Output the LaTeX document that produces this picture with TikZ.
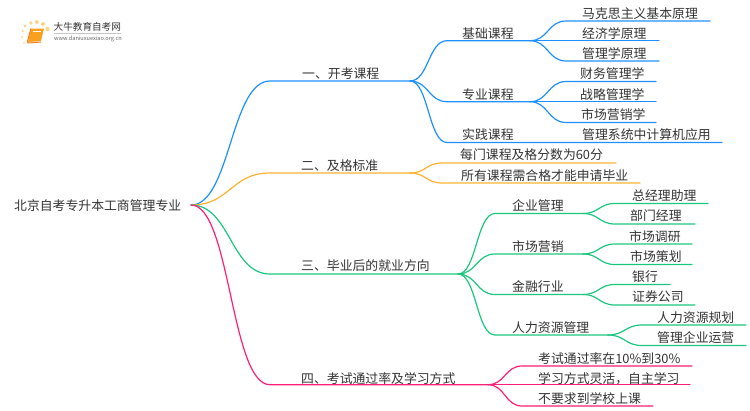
\documentclass[tikz,border=0pt]{standalone}
\usepackage{fontspec}
\setmainfont{Noto Sans CJK SC}
\usetikzlibrary{calc}
\definecolor{ink}{HTML}{333333}
\definecolor{cblue}{HTML}{1E90FF}
\definecolor{corange}{HTML}{FDB32F}
\definecolor{cgreen}{HTML}{1BC77E}
\definecolor{cpink}{HTML}{FF1E78}
\definecolor{bookfill}{HTML}{F9A01E}
\definecolor{bookedge}{HTML}{EE7F1A}
\definecolor{dotc}{HTML}{FBD68A}
\tikzset{
  label/.style={anchor=west,inner sep=0pt,text=ink,yshift=-0.3pt,font=\fontsize{12.85}{14}\selectfont},
  wire/.style={line width=1.2pt,line cap=round},
  bendto/.style={to path={let \p1=(\tikztostart),\p2=(\tikztotarget) in
    .. controls ({0.5*(\x1+\x2)},\y1) and ({0.5*(\x1+\x2)},\y2) .. (\tikztotarget)}},
}
\begin{document}
\begin{tikzpicture}[x=1pt,y=-1pt]
\useasboundingbox (0,0) rectangle (750,410);
% logo
\foreach \a/\b/\r in {24/43/0.9,22/37/1.1,22.7/31/1.3,25/26/1.6,31/23/1.9,37/22/2,43/24/2,47.5/29/2.2}
  \fill[dotc] (\a,\b) circle (\r);
\fill[bookfill] (31,28.5) -- (44,28.5) -- (41,41) -- (28,42) -- cycle;
\draw[bookedge,line width=1pt] (31,28.5) -- (27.5,41) -- (28,43) -- (41,42);
\draw[white,line width=0.6pt] (33,31.5) -- (41,31.5);
\node[anchor=west,inner sep=0pt,text=ink,font=\fontsize{9.6}{11}\selectfont] (logotitle) at (53.5,27) {大牛教育自考网};
\node[anchor=west,inner sep=0pt,text=black!60,font=\fontsize{5.6}{6}\selectfont] (logourl) at (54,38.7) {www.daniuxuexiao.org.cn};
\coordinate (logorulea) at (54,33.3);
\coordinate (logoruleb) at (121,33.3);
\draw[black!22,line width=0.5pt] (logorulea) -- (logoruleb);

% texts
\node[label] (root) at (14,205) {北京自考专升本工商管理专业};
\coordinate (r) at (191,205);

\node[label] (a) at (302,73) {一、开考课程};
\node[label] (b) at (301,165) {二、及格标准};
\node[label] (c) at (301,265) {三、毕业后的就业方向};
\node[label] (d) at (301,378) {四、考试通过率及学习方式};

\node[label] (a1) at (462,33) {基础课程};
\node[label] (a2) at (462,94) {专业课程};
\node[label] (a3) at (462,134) {实践课程};
\node[label] (a11) at (582,13) {马克思主义基本原理};
\node[label] (a12) at (582,33) {经济学原理};
\node[label] (a13) at (582,53) {管理学原理};
\node[label] (a21) at (580,73.5) {财务管理学};
\node[label] (a22) at (580,94) {战略管理学};
\node[label] (a23) at (581,114) {市场营销学};
\node[label] (a31) at (582,134) {管理系统中计算机应用};
\node[label] (b1) at (460,154) {每门课程及格分数为60分};
\node[label] (b2) at (461,175) {所有课程需合格才能申请毕业};

\node[label] (c1) at (512,205) {企业管理};
\node[label] (c2) at (512,246) {市场营销};
\node[label] (c3) at (512,286) {金融行业};
\node[label] (c4) at (512,327) {人力资源管理};
\node[label] (c11) at (632,195) {总经理助理};
\node[label] (c12) at (630,215.5) {部门经理};
\node[label] (c21) at (629,236) {市场调研};
\node[label] (c22) at (630,256) {市场策划};
\node[label] (c31) at (632,276) {银行};
\node[label] (c32) at (632,296.5) {证券公司};
\node[label] (c41) at (657,317) {人力资源规划};
\node[label] (c42) at (657,337) {管理企业运营};
\node[label] (d1) at (538,358) {考试通过率在10\%到30\%};
\node[label] (d2) at (538,378) {学习方式灵活，自主学习};
\node[label] (d3) at (538,398) {不要求到学校上课};

% junctions
\coordinate (as) at (270,81);  \coordinate (ae) at (410,81);
\coordinate (bs) at (270,173); \coordinate (be) at (410,173);
\coordinate (cs) at (270,274); \coordinate (ce) at (458,274);
\coordinate (ds) at (270,384.7); \coordinate (de) at (488,384.7);

\coordinate (a1s) at (447,40.7);    \coordinate (a1e) at (530,40.7);
\coordinate (a2s) at (447,101.7);   \coordinate (a2e) at (530,101.7);
\coordinate (a3s) at (447,142.5); \coordinate (a3e) at (722,142.5);
\coordinate (a11s) at (566,21);   \coordinate (a11e) at (710,21);
\coordinate (a12e) at (659,40.7);
\coordinate (a13s) at (566,61);   \coordinate (a13e) at (659,61);
\coordinate (a21s) at (566,81.5); \coordinate (a21e) at (656,81.5);
\coordinate (a22e) at (656,101.7);
\coordinate (a23s) at (566,122.5);\coordinate (a23e) at (656,122.5);

\coordinate (b1s) at (442,163);   \coordinate (b1e) at (616,163);
\coordinate (b2s) at (442,183);   \coordinate (b2e) at (640,183);

\coordinate (c1s) at (495,213.5); \coordinate (c1e) at (583,213.5);
\coordinate (c2s) at (495,254);   \coordinate (c2e) at (583,254);
\coordinate (c3s) at (495,294.5); \coordinate (c3e) at (583,294.5);
\coordinate (c4s) at (495,335);   \coordinate (c4e) at (608,335);
\coordinate (c11s) at (615,203.5);\coordinate (c11e) at (708,203.5);
\coordinate (c12s) at (615,224);  \coordinate (c12e) at (695,224);
\coordinate (c21s) at (615,244);  \coordinate (c21e) at (692,244);
\coordinate (c22s) at (615,264.5);\coordinate (c22e) at (692,264.5);
\coordinate (c31s) at (615,284.5);\coordinate (c31e) at (670,284.5);
\coordinate (c32s) at (615,305);  \coordinate (c32e) at (695,305);
\coordinate (c41s) at (642,325);  \coordinate (c41e) at (746,325);
\coordinate (c42s) at (642,345.5);\coordinate (c42e) at (746,345.5);

\coordinate (d1s) at (522,366);   \coordinate (d1e) at (692,366);
\coordinate (d2e) at (690,384.7);
\coordinate (d3s) at (522,406);   \coordinate (d3e) at (653,406);

% connectors
\begin{scope}[wire,cblue]
\draw (r) to[bendto] (as) -- (ae);
\draw (ae) to[bendto] (a1s) -- (a1e);
\draw (ae) to[bendto] (a2s) -- (a2e);
\draw (ae) to[bendto] (a3s) -- (a3e);
\draw (a1e) to[bendto] (a11s) -- (a11e);
\draw (a1e) -- (a12e);
\draw (a1e) to[bendto] (a13s) -- (a13e);
\draw (a2e) to[bendto] (a21s) -- (a21e);
\draw (a2e) -- (a22e);
\draw (a2e) to[bendto] (a23s) -- (a23e);
\end{scope}
\begin{scope}[wire,corange]
\draw (r) to[bendto] (bs) -- (be);
\draw (be) to[bendto] (b1s) -- (b1e);
\draw (be) to[bendto] (b2s) -- (b2e);
\end{scope}
\begin{scope}[wire,cgreen]
\draw (r) to[bendto] (cs) -- (ce);
\draw (ce) to[bendto] (c1s) -- (c1e);
\draw (ce) to[bendto] (c2s) -- (c2e);
\draw (ce) to[bendto] (c3s) -- (c3e);
\draw (ce) to[bendto] (c4s) -- (c4e);
\draw (c1e) to[bendto] (c11s) -- (c11e);
\draw (c1e) to[bendto] (c12s) -- (c12e);
\draw (c2e) to[bendto] (c21s) -- (c21e);
\draw (c2e) to[bendto] (c22s) -- (c22e);
\draw (c3e) to[bendto] (c31s) -- (c31e);
\draw (c3e) to[bendto] (c32s) -- (c32e);
\draw (c4e) to[bendto] (c41s) -- (c41e);
\draw (c4e) to[bendto] (c42s) -- (c42e);
\end{scope}
\begin{scope}[wire,cpink]
\draw (r) to[bendto] (ds) -- (de);
\draw (de) to[bendto] (d1s) -- (d1e);
\draw (de) -- (d2e);
\draw (de) to[bendto] (d3s) -- (d3e);
\end{scope}
\end{tikzpicture}
\end{document}
